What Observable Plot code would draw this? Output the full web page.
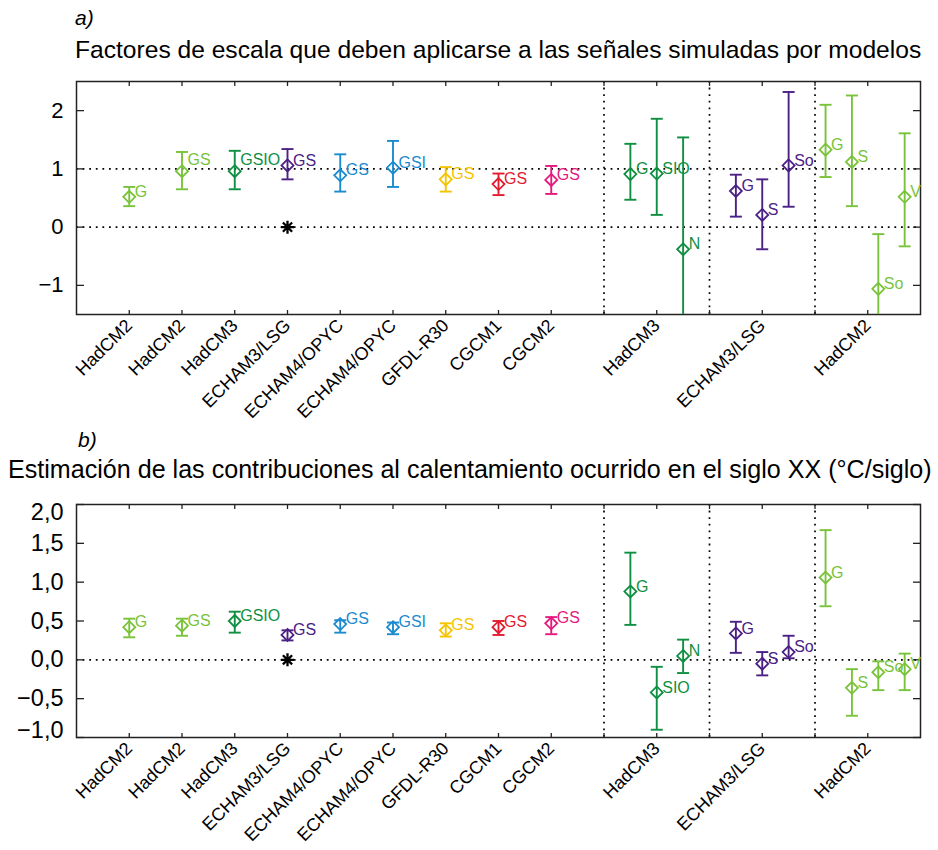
<!DOCTYPE html>
<html><head><meta charset="utf-8">
<script src="https://cdn.jsdelivr.net/npm/d3@7"></script>
<script src="https://cdn.jsdelivr.net/npm/@observablehq/plot@0.6"></script>
<style>
body{margin:0;background:#fff;font-family:"Liberation Sans",Arial,sans-serif;}
#wrap{position:relative;width:938px;height:850px;overflow:hidden;background:#fff}
.lab{position:absolute;white-space:nowrap;color:#000;line-height:1}
.pl{position:absolute;left:0}
svg{overflow:visible}
</style></head><body>
<div id="wrap">
<div class="lab" style="left:75px;top:7px;font-size:21px;font-style:italic">a)</div>
<div class="lab" id="ta" style="left:75px;top:38px;font-size:24.6px"></div>
<div class="pl" id="pa" style="top:70px"></div>
<div class="lab" style="left:78px;top:429px;font-size:21px;font-style:italic">b)</div>
<div class="lab" id="tb" style="left:8px;top:457px;font-size:25.1px"></div>
<div class="pl" id="pb" style="top:490px"></div>
</div>
<script>
// ---------- data ----------
const titleA = "Factores de escala que deben aplicarse a las señales simuladas por modelos";
const titleB = "Estimación de las contribuciones al calentamiento ocurrido en el siglo XX (°C/siglo)";

const models = ["HadCM2","HadCM2","HadCM3","ECHAM3/LSG","ECHAM4/OPYC","ECHAM4/OPYC","GFDL-R30","CGCM1","CGCM2"];
const modelSignals = ["G","GS","GSIO","GS","GS","GSI","GS","GS","GS"];

const groups = ["HadCM3","ECHAM3/LSG","HadCM2"];
const groupSignals = [["G","SIO","N"],["G","S","So"],["G","S","So","V"]];

// panel a: scaling factors
const aMid = [0.52,0.96,0.96,1.06,0.89,1.02,0.82,0.74,0.81];
const aLo  = [0.36,0.65,0.65,0.82,0.61,0.69,0.61,0.55,0.57];
const aHi  = [0.69,1.29,1.31,1.34,1.25,1.48,1.03,0.92,1.05];
const aGroupMid = [[0.91,0.92,-0.38],[0.62,0.21,1.06],[1.33,1.12,-1.06,0.52]];
const aGroupLo  = [[0.47,0.21,-2.4],[0.18,-0.38,0.35],[0.86,0.36,-2.2,-0.33]];
const aGroupHi  = [[1.43,1.86,1.54],[0.90,0.82,2.32],[2.10,2.26,-0.12,1.61]];

// panel b: contributions (°C/siglo)
const bMid = [0.42,0.44,0.50,0.32,0.46,0.42,0.38,0.42,0.47];
const bLo  = [0.29,0.31,0.35,0.25,0.35,0.33,0.30,0.32,0.33];
const bHi  = [0.53,0.53,0.62,0.38,0.51,0.48,0.47,0.50,0.55];
const bGroupMid = [[0.88,-0.42,0.05],[0.34,-0.05,0.10],[1.06,-0.36,-0.16,-0.12]];
const bGroupLo  = [[0.45,-0.90,-0.17],[0.09,-0.20,0.02],[0.69,-0.72,-0.39,-0.39]];
const bGroupHi  = [[1.38,-0.09,0.26],[0.49,0.10,0.31],[1.67,-0.12,-0.02,0.08]];

// reference asterisk (ECHAM3/LSG, value 0)
const starModelIndex = 3;
const starValue = 0;

const yTicksA = [-1,0,1,2];
const yTicksB = [-1,-0.5,0,0.5,1,1.5,2];

// ---------- styles ----------
const colorDomain = ["HadCM2","HadCM3","ECHAM3/LSG","ECHAM4/OPYC","GFDL-R30","CGCM1","CGCM2"];
const colorRange  = ["#79c33b","#0f8f42","#4b2185","#1b8bd0","#f5c400","#e31b2f","#e5197d"];

document.getElementById("ta").textContent = titleA;
document.getElementById("tb").textContent = titleB;

// ---------- layout ----------
function buildRows(mid, lo, hi, gMid, gLo, gHi) {
  const rows = [];
  models.forEach((m, i) => rows.push({model: m, sig: modelSignals[i], x: i + 1, mid: mid[i], lo: lo[i], hi: hi[i], idx: i}));
  groups.forEach((g, gi) => {
    const n = groupSignals[gi].length;
    const shift = n > 3 ? -0.05 : 0;
    groupSignals[gi].forEach((s, j) => rows.push({
      model: g, sig: s, x: 11 + 2 * gi + (j - (n - 1) / 2) * 0.5 + shift,
      mid: gMid[gi][j], lo: gLo[gi][j], hi: gHi[gi][j], idx: 100 + gi * 10 + j
    }));
  });
  return rows;
}
const rowsA = buildRows(aMid, aLo, aHi, aGroupMid, aGroupLo, aGroupHi);
const rowsB = buildRows(bMid, bLo, bHi, bGroupMid, bGroupLo, bGroupHi);

const labelPositions = [...d3.range(1, 10), 11, 13, 15];
const labelNames = [...models, ...groups];
const labelMap = new Map(labelPositions.map((p, i) => [p, labelNames[i]]));
const tickPositions = d3.range(1, 16);
const separators = [10, 12, 14];

const capSymbol = {draw(ctx, size) { const r = Math.sqrt(size / Math.PI); ctx.moveTo(-r, 0); ctx.lineTo(r, 0); }};
const starSymbol = {draw(ctx, size) {
  const r = Math.sqrt(size / Math.PI);
  for (let k = 0; k < 4; k++) {
    const a = k * Math.PI / 4;
    ctx.moveTo(-r * Math.cos(a), -r * Math.sin(a));
    ctx.lineTo(r * Math.cos(a), r * Math.sin(a));
  }
}};

const dotted = {stroke: "#000", strokeWidth: 1.7, strokeDasharray: "1.8,4.8"};
const fmtMinus = s => s.replace("-", "\u2212");

function makePlot({rows, yDomain, yTicks, yFormat, yFont, height, marginTop, marginBottom, hlines, nudge, yEdgeNudge}) {
  const midTicks = yEdgeNudge ? yTicks.filter(t => t !== yDomain[0] && t !== yDomain[1]) : yTicks;
  const yLabelMarks = [
    Plot.axisY({anchor: "left", ticks: midTicks, tickSize: 0, tickPadding: 13, fontSize: yFont, tickFormat: yFormat, label: null, fill: "#000"})
  ];
  if (yEdgeNudge) {
    yLabelMarks.push(Plot.axisY({anchor: "left", ticks: [yDomain[1]], tickSize: 0, tickPadding: 13, fontSize: yFont, tickFormat: yFormat, label: null, dy: 8, fill: "#000"}));
    yLabelMarks.push(Plot.axisY({anchor: "left", ticks: [yDomain[0]], tickSize: 0, tickPadding: 13, fontSize: yFont, tickFormat: yFormat, label: null, dy: -7, fill: "#000"}));
  }
  const star = [{x: starModelIndex + 1, y: starValue}];
  return Plot.plot({
    width: 938, height, marginLeft: 76, marginRight: 18, marginTop, marginBottom,
    x: {domain: [0, 16], label: null},
    y: {domain: yDomain, label: null},
    color: {domain: colorDomain, range: colorRange},
    style: {fontFamily: "'Liberation Sans', Arial, sans-serif", overflow: "visible", background: "transparent"},
    marks: [
      Plot.ruleY(hlines, dotted),
      Plot.ruleX(separators, dotted),
      Plot.frame({stroke: "#222", strokeWidth: 1.5}),
      Plot.axisY({anchor: "left", ticks: yTicks, tickSize: -8, fill: "none", stroke: "#222", strokeWidth: 1.3, label: null}),
      Plot.axisY({anchor: "right", ticks: yTicks, tickSize: -8, fill: "none", stroke: "#222", strokeWidth: 1.3, label: null}),
      ...yLabelMarks,
      Plot.axisX({anchor: "bottom", ticks: tickPositions, tickSize: -4, fill: "none", stroke: "#222", strokeWidth: 1.3, label: null}),
      Plot.axisX({anchor: "top", ticks: tickPositions, tickSize: -4, fill: "none", stroke: "#222", strokeWidth: 1.3, label: null}),
      Plot.axisX({anchor: "bottom", ticks: labelPositions, tickFormat: d => labelMap.get(d), tickRotate: -45,
                  textAnchor: "end", tickSize: 0, tickPadding: 8, fontSize: 18, label: null, fill: "#000"}),
      Plot.ruleX(rows, {x: "x", y1: "lo", y2: "hi", stroke: "model", strokeWidth: 1.9, clip: true}),
      Plot.dot(rows, {x: "x", y: "hi", symbol: capSymbol, r: 6, stroke: "model", strokeWidth: 1.9, clip: true}),
      Plot.dot(rows, {x: "x", y: "lo", symbol: capSymbol, r: 6, stroke: "model", strokeWidth: 1.9, clip: true}),
      Plot.dot(rows, {x: "x", y: "mid", symbol: "diamond2", r: 5.4, stroke: "model", strokeWidth: 1.8, fill: "none"}),
      Plot.text(rows, {filter: d => !nudge.has(d.idx), x: "x", y: "mid", text: "sig", fill: "model", textAnchor: "start", dx: 5.5, dy: -5, fontSize: 16}),
      Plot.text(rows, {filter: d => nudge.has(d.idx), x: "x", y: "mid", text: "sig", fill: "model", textAnchor: "start", dx: 5.5, dy: -11, fontSize: 16}),
      Plot.dot(star, {x: "x", y: "y", symbol: starSymbol, r: 6.5, stroke: "#000", strokeWidth: 2.3})
    ]
  });
}

const plotA = makePlot({
  rows: rowsA, yDomain: [-1.5, 2.5], yTicks: yTicksA, yFont: 22,
  yFormat: d => fmtMinus(String(d)),
  height: 350, marginTop: 11, marginBottom: 106, hlines: [0, 1], nudge: new Set([1, 2]), yEdgeNudge: false
});
document.getElementById("pa").appendChild(plotA);

const plotB = makePlot({
  rows: rowsB, yDomain: [-1, 2], yTicks: yTicksB, yFont: 23.5,
  yFormat: d => fmtMinus(d3.format(".1f")(d).replace(".", ",")),
  height: 347, marginTop: 14, marginBottom: 100, hlines: [0], nudge: new Set(), yEdgeNudge: true
});
document.getElementById("pb").appendChild(plotB);
</script>
</body></html>
